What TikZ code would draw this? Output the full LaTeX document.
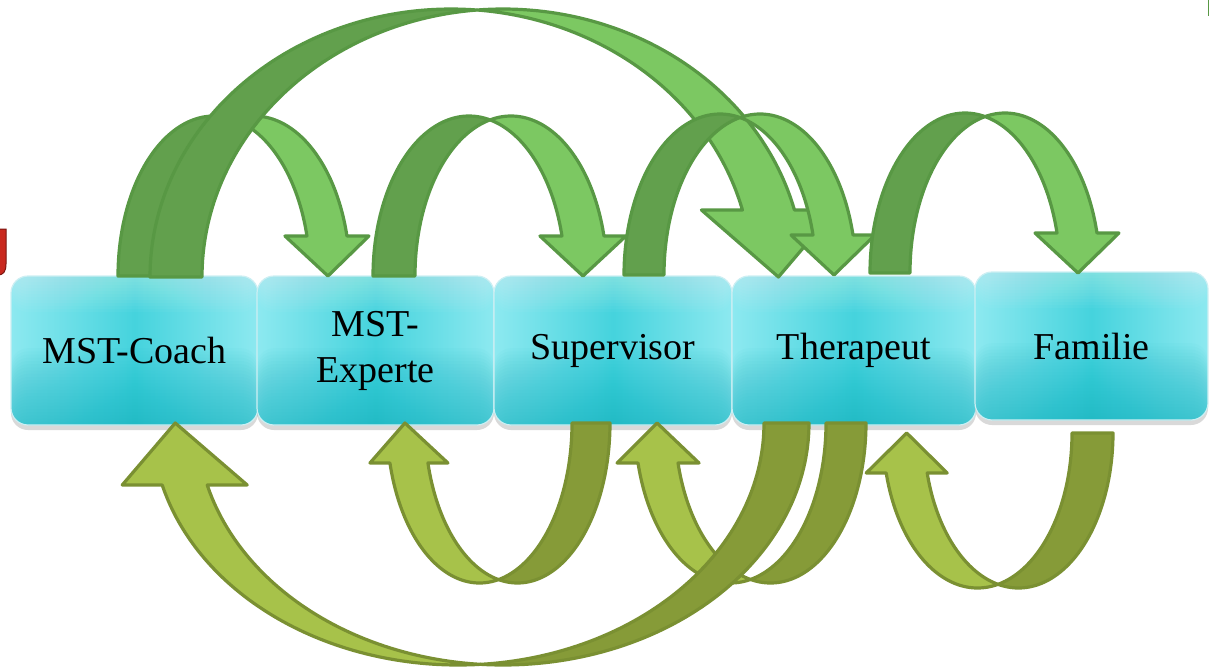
\documentclass[tikz,border=0pt]{standalone}
\usepackage{fontspec}
\setmainfont{Liberation Serif}
\usetikzlibrary{shadows}
\definecolor{tdark}{HTML}{62A04D}
\definecolor{tlight}{HTML}{7CC862}
\definecolor{tline}{HTML}{589844}
\definecolor{bdark}{HTML}{869B38}
\definecolor{blight}{HTML}{A7C24A}
\definecolor{bline}{HTML}{7A9032}
\definecolor{cyanL}{HTML}{8DE9F0}
\definecolor{cyanM}{HTML}{45D3DD}
\definecolor{cyanD}{HTML}{10B4C2}
\definecolor{boxedge}{HTML}{CDEFF3}
\definecolor{logored}{HTML}{C9281E}
\definecolor{logoline}{HTML}{7A1510}
% #1 a, #2 b, #3 w, #4 head height, #5 wing ext, #6 tip shift, #7 back style, #8 front style
\newcommand{\curvarrow}[8]{%
  \pgfmathsetmacro{\cvTz}{acos(#3/(2*#1))}%
  \pgfmathsetmacro{\cvTy}{180-\cvTz}%
  \pgfmathsetmacro{\cvPh}{asin(#4/#2)}%
  \pgfmathsetmacro{\cvC}{#1*cos(\cvPh)}%
  \path[#7] plot[domain=180:\cvTz, samples=70] ({#1+#1*cos(\x)},{#2*sin(\x)})
     -- plot[domain=\cvTy:180, samples=70] ({#1+#3+#1*cos(\x)},{#2*sin(\x)}) -- cycle;
  \path[#8] plot[domain=\cvTy:\cvPh, samples=70] ({#1+#3+#1*cos(\x)},{#2*sin(\x)})
     -- ({#1+#3+\cvC+#5},{#4}) -- ({#1+#3/2+\cvC+#6},0) -- ({#1+\cvC-#5},{#4})
     -- plot[domain=\cvPh:\cvTz, samples=70] ({#1+#1*cos(\x)},{#2*sin(\x)}) -- cycle;
}
\begin{document}
\begin{tikzpicture}[x=1pt,y=-1pt,
  tdk/.style={fill=tdark, draw=tline, line width=3.2pt, line join=round},
  tlt/.style={fill=tlight, draw=tline, line width=3.2pt, line join=round},
  bdk/.style={fill=bdark, draw=bline, line width=3.2pt, line join=round},
  blt/.style={fill=blight, draw=bline, line width=3.2pt, line join=round},
  boxn/.style={rounded corners=17pt, draw=boxedge, line width=1.2pt,
    inner sep=0pt, left color=cyanL, right color=cyanL, middle color=cyanM,
    drop shadow={opacity=0.3, shadow xshift=0pt, shadow yshift=-5pt},
    font=\fontsize{38}{46}\selectfont, align=center, text=black,
    path picture={
      \foreach \i in {1,...,24}{
        \fill[cyanD, fill opacity=0.03] (path picture bounding box.south west)
          rectangle ([yshift=\i*3.2pt]path picture bounding box.south east);}
      \foreach \i in {1,...,12}{
        \fill[white, fill opacity=0.03] (path picture bounding box.north west)
          rectangle ([yshift=-\i*3pt]path picture bounding box.north east);}
    }}
  ]
\useasboundingbox (0,0) rectangle (1210,670);
% partial logo at the left edge and line at top right
\path[fill=logored, draw=logoline, line width=1pt] (-2,229) -- (6,229) -- (6,264)
  .. controls (6,272) and (3,275) .. (-2,275) -- cycle;
\draw[tline, line width=1.5pt] (1208.5,0) -- (1208.5,16);
% boxes
\node[boxn, minimum width=247pt, minimum height=149pt] (n1) at (134.5,350.5) {MST-Coach};
\node[boxn, minimum width=237pt, minimum height=149pt] (n2) at (375.5,350.5) {MST-\\Experte};
\node[boxn, minimum width=238pt, minimum height=149pt] (n3) at (613,350.5) {Supervisor};
\node[boxn, minimum width=244pt, minimum height=149pt] (n4) at (854,350.5) {Therapeut};
\node[boxn, minimum width=233pt, minimum height=148pt] (n5) at (1091.5,346) {Familie};
% upper arrows
\begin{scope}[shift={(118,276)}, yscale=-1]\curvarrow{96}{160}{40}{40}{22}{1}{tdk}{tlt}\end{scope}
\begin{scope}[shift={(150,277)}, yscale=-1]\curvarrow{301}{268}{52}{67}{41}{10}{tdk}{tlt}\end{scope}
\begin{scope}[shift={(373,276)}, yscale=-1]\curvarrow{96}{160}{42}{40}{22}{0}{tdk}{tlt}\end{scope}
\begin{scope}[shift={(624,275)}, yscale=-1]\curvarrow{96}{161}{40}{40}{22}{1}{tdk}{tlt}\end{scope}
\begin{scope}[shift={(870,273)}, yscale=-1]\curvarrow{95}{160}{40}{40}{22}{1}{tdk}{tlt}\end{scope}
% lower arrows
\begin{scope}[shift={(610,423)}, xscale=-1]\curvarrow{92.5}{160}{38}{40}{20}{4}{bdk}{blt}\end{scope}
\begin{scope}[shift={(866,423)}, xscale=-1]\curvarrow{95.5}{160}{40}{40}{21}{1}{bdk}{blt}\end{scope}
\begin{scope}[shift={(1113,433)}, xscale=-1]\curvarrow{94.5}{155}{41}{40}{20}{0}{bdk}{blt}\end{scope}
\begin{scope}[shift={(809,423)}, xscale=-1]\curvarrow{306}{242}{45}{62}{40}{9.5}{bdk}{blt}\end{scope}
\end{tikzpicture}
\end{document}
